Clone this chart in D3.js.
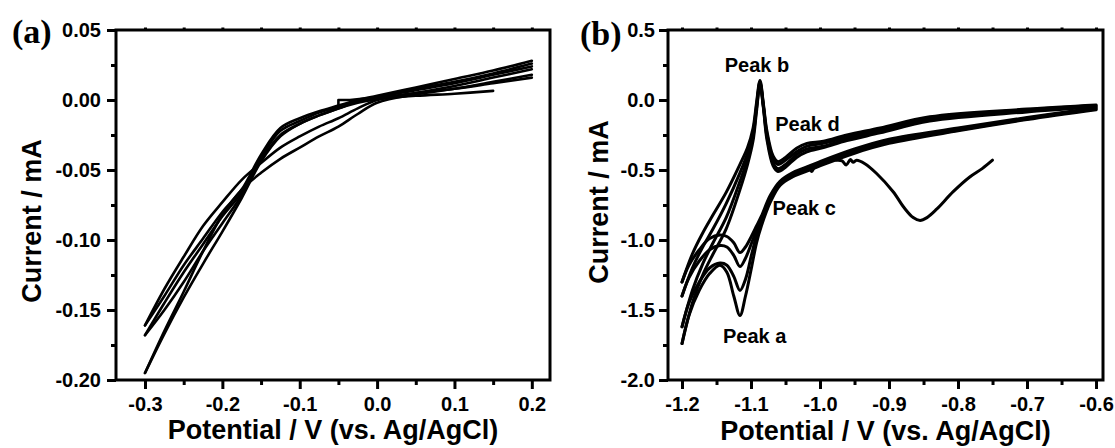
<!DOCTYPE html>
<html>
<head>
<meta charset="utf-8">
<script src="https://cdn.jsdelivr.net/npm/d3@7"></script>
<style>
  body { margin: 0; background: #fff; }
  svg { display: block; }
</style>
</head>
<body>
<svg id="chart" width="1115" height="448"></svg>
<script>
// ---------- Panel (a): CV cycles, -0.3 to 0.2 V ----------
const potentialA = [0.2, 0.15, 0.1, 0.05, 0, -0.025, -0.05, -0.075, -0.1, -0.125, -0.15, -0.175, -0.2, -0.225, -0.25, -0.275, -0.3];
const scanA1 = [0.028, 0.021, 0.015, 0.009, 0.003, 0.000, -0.004, -0.008, -0.013, -0.020, -0.039, -0.064, -0.080, -0.099, -0.118, -0.140, -0.161];
const scanA2 = [0.024, 0.018, 0.012, 0.007, 0.002, -0.001, -0.005, -0.009, -0.015, -0.022, -0.041, -0.066, -0.083, -0.103, -0.123, -0.145, -0.168];
const scanA3 = [0.026, 0.019, 0.013, 0.008, 0.002, -0.001, -0.006, -0.011, -0.017, -0.025, -0.043, -0.068, -0.088, -0.108, -0.130, -0.150, -0.168];
const scanA4 = [0.016, 0.012, 0.008, 0.005, 0.001, -0.002, -0.006, -0.011, -0.017, -0.026, -0.044, -0.070, -0.094, -0.117, -0.141, -0.167, -0.195];
const scanA5 = [0.022, 0.016, 0.010, 0.005, 0.000, -0.006, -0.013, -0.019, -0.026, -0.034, -0.045, -0.057, -0.073, -0.090, -0.112, -0.135, -0.161];
const scanA6 = [0.018, 0.013, 0.008, 0.004, -0.002, -0.010, -0.019, -0.026, -0.034, -0.042, -0.052, -0.064, -0.082, -0.108, -0.137, -0.165, -0.195];
// start of the first sweep and the last partial sweep
const startPotA = [-0.05, -0.05, -0.035, -0.02, 0.0];
const startCurA = [-0.0035, 0.0, 0.0, 0.0008, 0.002];
const endPotA = [0.15, 0.1, 0.05, 0.0, -0.025];
const endCurA = [0.0065, 0.0045, 0.003, 0.0005, -0.001];

const xTicksA = [-0.3, -0.2, -0.1, 0.0, 0.1, 0.2];
const xTickLabelsA = ["-0.3", "-0.2", "-0.1", "0.0", "0.1", "0.2"];
const xMinorA = [-0.25, -0.15, -0.05, 0.05, 0.15];
const yTicksA = [0.05, 0.0, -0.05, -0.10, -0.15, -0.20];
const yTickLabelsA = ["0.05", "0.00", "-0.05", "-0.10", "-0.15", "-0.20"];
const yMinorA = [0.025, -0.025, -0.075, -0.125, -0.175];

// ---------- Panel (b): CV cycles, -1.2 to -0.6 V ----------
// cathodic sweeps (towards -1.2 V)
const potentialBCathodic = [-0.6, -0.7, -0.8, -0.9, -0.95, -1.0, -1.02, -1.04, -1.058, -1.072, -1.085, -1.092, -1.099, -1.108, -1.116, -1.125, -1.135, -1.145, -1.16, -1.175, -1.19, -1.2];
const cathodicB1 = [-0.07, -0.14, -0.22, -0.31, -0.38, -0.47, -0.51, -0.55, -0.61, -0.73, -0.90, -1.02, -1.19, -1.40, -1.54, -1.40, -1.23, -1.18, -1.24, -1.36, -1.54, -1.74];
const cathodicB2 = [-0.065, -0.135, -0.215, -0.30, -0.37, -0.46, -0.50, -0.54, -0.60, -0.71, -0.87, -0.97, -1.10, -1.28, -1.36, -1.26, -1.18, -1.165, -1.20, -1.30, -1.45, -1.62];
const cathodicB3 = [-0.06, -0.13, -0.21, -0.29, -0.36, -0.45, -0.49, -0.53, -0.59, -0.70, -0.85, -0.93, -1.02, -1.13, -1.19, -1.11, -1.05, -1.04, -1.07, -1.15, -1.27, -1.40];
const cathodicB4 = [-0.055, -0.125, -0.20, -0.28, -0.35, -0.44, -0.48, -0.52, -0.58, -0.68, -0.83, -0.90, -0.97, -1.05, -1.09, -1.02, -0.975, -0.965, -0.99, -1.07, -1.18, -1.30];
// anodic sweeps (back to -0.6 V)
const potentialBAnodic = [-1.2, -1.185, -1.17, -1.155, -1.136, -1.116, -1.105, -1.097, -1.092, -1.087, -1.082, -1.077, -1.068, -1.061, -1.05, -1.034, -1.019, -0.995, -0.961, -0.913, -0.841, -0.7, -0.6];
const anodicB1 = [-1.74, -1.45, -1.25, -1.10, -0.92, -0.64, -0.46, -0.29, -0.08, 0.11, -0.06, -0.28, -0.47, -0.51, -0.48, -0.41, -0.37, -0.34, -0.29, -0.235, -0.15, -0.085, -0.05];
const anodicB2 = [-1.62, -1.36, -1.17, -1.02, -0.84, -0.58, -0.42, -0.26, -0.06, 0.12, -0.05, -0.26, -0.45, -0.49, -0.46, -0.39, -0.35, -0.33, -0.28, -0.225, -0.14, -0.08, -0.045];
const anodicB3 = [-1.40, -1.20, -1.05, -0.92, -0.74, -0.52, -0.38, -0.23, -0.04, 0.13, -0.04, -0.24, -0.42, -0.46, -0.43, -0.37, -0.33, -0.31, -0.265, -0.21, -0.13, -0.07, -0.04];
const anodicB4 = [-1.30, -1.10, -0.95, -0.82, -0.66, -0.46, -0.34, -0.20, -0.02, 0.14, -0.03, -0.22, -0.40, -0.44, -0.41, -0.345, -0.31, -0.295, -0.25, -0.20, -0.12, -0.065, -0.035];
// first sweep from -0.75 V
const initialPotB = [-0.75, -0.765, -0.783, -0.807, -0.831, -0.845, -0.855, -0.865, -0.878, -0.894, -0.918, -0.935, -0.947, -0.952, -0.956, -0.962, -0.968, -0.976, -0.986, -0.998, -1.008, -1.012, -1.016, -1.025];
const initialCurB = [-0.43, -0.49, -0.55, -0.655, -0.78, -0.84, -0.86, -0.84, -0.77, -0.655, -0.525, -0.455, -0.43, -0.445, -0.425, -0.465, -0.435, -0.43, -0.43, -0.46, -0.48, -0.51, -0.49, -0.50];

const xTicksB = [-1.2, -1.1, -1.0, -0.9, -0.8, -0.7, -0.6];
const xTickLabelsB = ["-1.2", "-1.1", "-1.0", "-0.9", "-0.8", "-0.7", "-0.6"];
const xMinorB = [-1.15, -1.05, -0.95, -0.85, -0.75, -0.65];
const yTicksB = [0.5, 0.0, -0.5, -1.0, -1.5, -2.0];
const yTickLabelsB = ["0.5", "0.0", "-0.5", "-1.0", "-1.5", "-2.0"];
const yMinorB = [0.25, -0.25, -0.75, -1.25, -1.75];

const peakLabels = [
  { text: "Peak b", v: -1.087, i: 0.13 },
  { text: "Peak d", v: -1.02, i: -0.30 },
  { text: "Peak c", v: -1.05, i: -0.58 },
  { text: "Peak a", v: -1.116, i: -1.54 }
];

const SANS = "Arial, 'Liberation Sans', sans-serif";
const SERIF = "'Times New Roman', 'Liberation Serif', serif";

const svg = d3.select("#chart");
const zip = (xs, ys) => xs.map((x, k) => [x, ys[k]]);

function styleText(sel, size, family) {
  return sel.style("font-family", family || SANS)
    .style("font-weight", "bold")
    .style("font-size", size + "px")
    .style("fill", "#000");
}

function drawPanel(cfg) {
  const x = d3.scaleLinear().domain(cfg.xDomain).range([cfg.left, cfg.right]);
  const y = d3.scaleLinear().domain(cfg.yDomain).range([cfg.bottom, cfg.top]);
  const g = svg.append("g");

  // data curves
  const line = d3.line()
    .x(d => x(d[0])).y(d => y(d[1]))
    .curve(d3.curveCatmullRom.alpha(0.5));
  const lineSharp = d3.line().x(d => x(d[0])).y(d => y(d[1]));
  cfg.series.forEach(s => {
    g.append("path")
      .attr("d", (s.sharp ? lineSharp : line)(s.points))
      .attr("fill", "none")
      .attr("stroke", "#000")
      .attr("stroke-width", cfg.lineWidth)
      .attr("stroke-linejoin", "round")
      .attr("stroke-linecap", "round");
  });

  // axes
  const fmt = (vals, labels) => d => labels[vals.indexOf(d)];
  const xAxis = g.append("g").attr("transform", `translate(0,${cfg.bottom})`)
    .call(d3.axisBottom(x).tickValues(cfg.xTicks).tickSize(9).tickPadding(8)
      .tickFormat(fmt(cfg.xTicks, cfg.xLabels)));
  const xMinor = g.append("g").attr("transform", `translate(0,${cfg.bottom})`)
    .call(d3.axisBottom(x).tickValues(cfg.xMinor).tickSize(5).tickFormat(""));
  const xTop = g.append("g").attr("transform", `translate(0,${cfg.top})`)
    .call(d3.axisTop(x).tickValues(cfg.xTicks.concat(cfg.xMinor)).tickSize(2.5).tickFormat(""));
  const yAxis = g.append("g").attr("transform", `translate(${cfg.left},0)`)
    .call(d3.axisLeft(y).tickValues(cfg.yTicks).tickSize(9).tickPadding(cfg.yPad)
      .tickFormat(fmt(cfg.yTicks, cfg.yLabels)));
  const yMinor = g.append("g").attr("transform", `translate(${cfg.left},0)`)
    .call(d3.axisLeft(y).tickValues(cfg.yMinor).tickSize(5).tickFormat(""));

  [xAxis, xMinor, xTop, yAxis, yMinor].forEach(a => {
    a.select(".domain").remove();
    a.selectAll(".tick line").attr("stroke", "#000").attr("stroke-width", 3);
    styleText(a.selectAll(".tick text"), 20);
  });

  // frame
  g.append("rect")
    .attr("x", cfg.left).attr("y", cfg.top)
    .attr("width", cfg.right - cfg.left).attr("height", cfg.bottom - cfg.top)
    .attr("fill", "none").attr("stroke", "#000").attr("stroke-width", 3);

  // axis titles
  styleText(g.append("text"), 27)
    .attr("x", (cfg.left + cfg.right) / 2).attr("y", cfg.xTitleY)
    .attr("text-anchor", "middle")
    .text("Potential / V (vs. Ag/AgCl)");
  styleText(g.append("text"), 27)
    .attr("transform", `translate(${cfg.yTitleX},${cfg.yTitleMid}) rotate(-90)`)
    .attr("text-anchor", "middle")
    .text("Current / mA");

  // panel letter
  styleText(g.append("text"), 34, SERIF)
    .attr("x", cfg.letterX).attr("y", cfg.letterY)
    .text(cfg.letter);

  return { x, y, g };
}

// panel (a)
const seriesA = [scanA1, scanA2, scanA3, scanA4, scanA5, scanA6].map(c => ({ points: zip(potentialA, c) }));
seriesA.push({ points: zip(startPotA, startCurA), sharp: true });
seriesA.push({ points: zip(endPotA, endCurA) });
drawPanel({
  left: 116, right: 550, top: 30, bottom: 380,
  xDomain: [-0.3375, 0.2235], yDomain: [-0.2, 0.05],
  xTicks: xTicksA, xLabels: xTickLabelsA, xMinor: xMinorA,
  yTicks: yTicksA, yLabels: yTickLabelsA, yMinor: yMinorA, yPad: 6,
  series: seriesA, lineWidth: 2.6,
  xTitleY: 439, yTitleX: 41, yTitleMid: 221,
  letter: "(a)", letterX: 12, letterY: 43
});

// panel (b)
const seriesB = [cathodicB1, cathodicB2, cathodicB3, cathodicB4].map(c => ({ points: zip(potentialBCathodic, c) }))
  .concat([anodicB1, anodicB2, anodicB3, anodicB4].map(c => ({ points: zip(potentialBAnodic, c) })));
seriesB.push({ points: zip(initialPotB, initialCurB) });
const pb = drawPanel({
  left: 668, right: 1103, top: 30, bottom: 380,
  xDomain: [-1.2203, -0.5899], yDomain: [-2.0, 0.5],
  xTicks: xTicksB, xLabels: xTickLabelsB, xMinor: xMinorB,
  yTicks: yTicksB, yLabels: yTickLabelsB, yMinor: yMinorB, yPad: 4,
  series: seriesB, lineWidth: 3,
  xTitleY: 440, yTitleX: 608, yTitleMid: 202,
  letter: "(b)", letterX: 580, letterY: 45
});

// peak annotations, placed relative to the peak they name
const labelOffsets = {
  "Peak b": { dx: -3, dy: -10, anchor: "middle" },
  "Peak d": { dx: -31, dy: -11, anchor: "start" },
  "Peak c": { dx: -13, dy: 34, anchor: "start" },
  "Peak a": { dx: -17, dy: 27, anchor: "start" }
};
peakLabels.forEach(p => {
  const o = labelOffsets[p.text];
  styleText(pb.g.append("text"), 20)
    .attr("x", pb.x(p.v) + o.dx).attr("y", pb.y(p.i) + o.dy)
    .attr("text-anchor", o.anchor)
    .text(p.text);
});
</script>
</body>
</html>
